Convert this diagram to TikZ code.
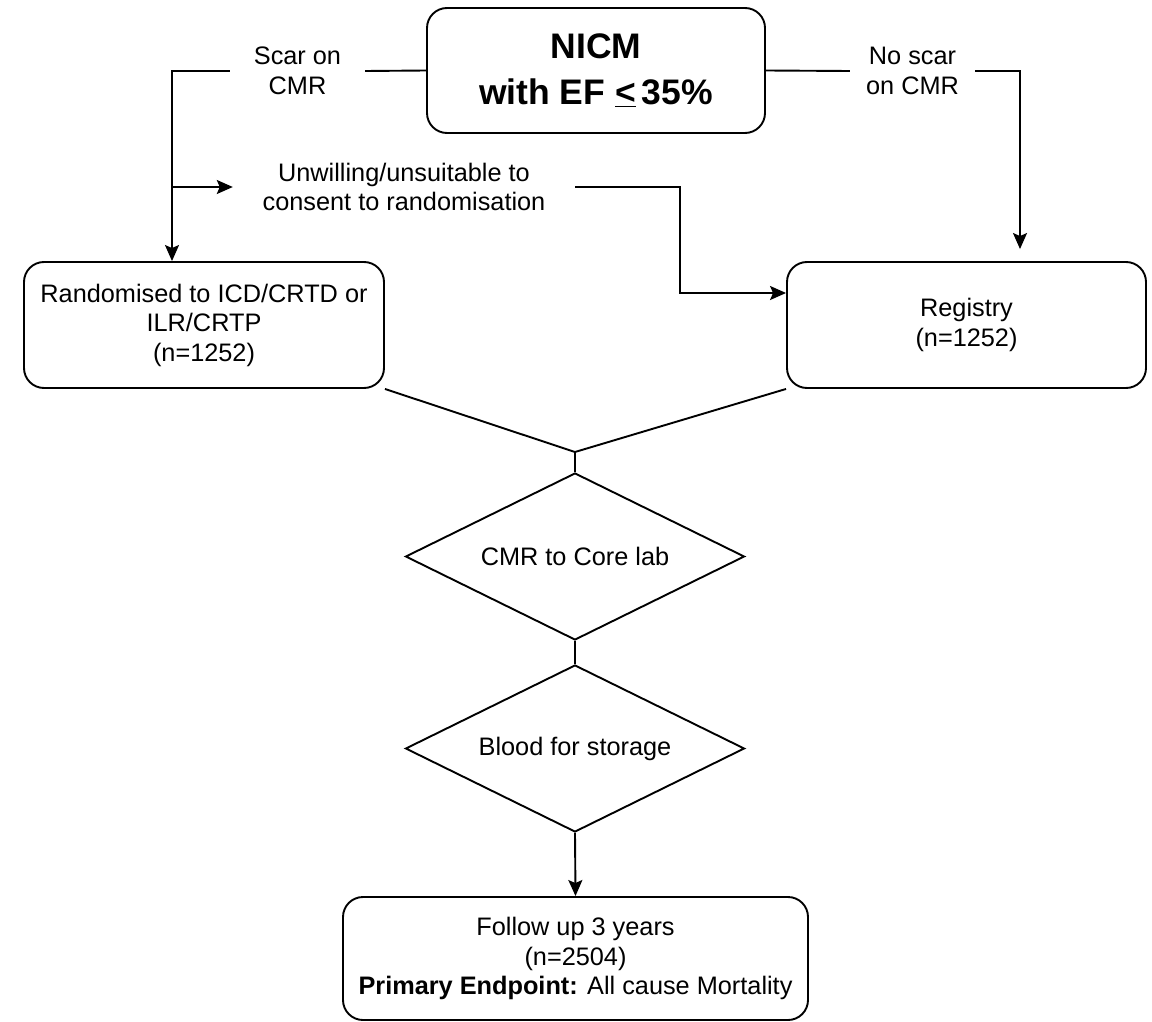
\documentclass[tikz,border=0pt]{standalone}
\usepackage{fontspec}
\setmainfont{Liberation Sans}
\usetikzlibrary{shapes.geometric,arrows.meta}
\begin{document}
\begin{tikzpicture}[x=1pt,y=-1pt,
  every node/.style={font=\fontsize{25.3}{29.5}\selectfont, align=center, inner sep=0pt},
  box/.style={draw, rounded corners=20pt, line width=1.9pt},
  dia/.style={draw, diamond, line width=1.9pt, minimum width=339pt, minimum height=167pt, aspect=2.03},
  lbl/.style={minimum height=60pt},
  conn/.style={line width=1.9pt},
  arr/.style={conn, -{Stealth[length=16pt,width=14pt,inset=3pt]}}]
\useasboundingbox (0,0) rectangle (1152,1022);
\node[box, minimum width=338pt, minimum height=125pt, font=\fontsize{35.5}{46}\selectfont\bfseries] (nicm) at (596,70.5) {NICM\\with EF \underline{<}\,35\%};
\node[lbl, minimum width=135pt] (scar) at (297.5,71) {Scar on\\CMR};
\node[lbl, minimum width=125pt] (noscar) at (912.5,71) {No scar\\on CMR};
\node[lbl, minimum width=342pt] (unw) at (404,187) {Unwilling/unsuitable to\\consent to randomisation};
\node[box, minimum width=360pt, minimum height=126pt] (rand) at (204,325) {Randomised to ICD/CRTD or\\ILR/CRTP\\(n=1252)};
\node[box, minimum width=359pt, minimum height=126pt] (reg) at (966.5,325) {Registry\\(n=1252)};
\node[dia] (d1) at (575,556.5) {CMR to Core lab};
\node[dia] (d2) at (575,748.5) {Blood for storage};
\node[box, minimum width=465pt, minimum height=123pt] (fol) at (575.5,958.5) {Follow up 3 years\\(n=2504)\\\textbf{Primary Endpoint:} All cause Mortality};
\coordinate (cL) at (172,71);
\coordinate (cR) at (1020,71);
\coordinate (cM) at (680,293);
\coordinate (cJ) at (575,452);
\draw[conn] (nicm.west) -- (scar.east);
\draw[arr] (scar.west) -- (cL) -- (cL |- rand.north);
\draw[conn] (nicm.east) -- (noscar.west);
\draw[arr] (noscar.east) -- (cR) -- ([yshift=12pt]cR |- reg.north);
\draw[arr] (cL |- unw.west) -- (unw.west);
\draw[arr] (unw.east) -| (cM) -- (cM -| reg.west);
\draw[conn] (rand.south east) -- (cJ) -- (reg.south west);
\draw[conn] (cJ) -- (d1.north);
\draw[conn] (d1.south) -- (d2.north);
\draw[arr] (d2.south) -- (fol.north);
\end{tikzpicture}
\end{document}
